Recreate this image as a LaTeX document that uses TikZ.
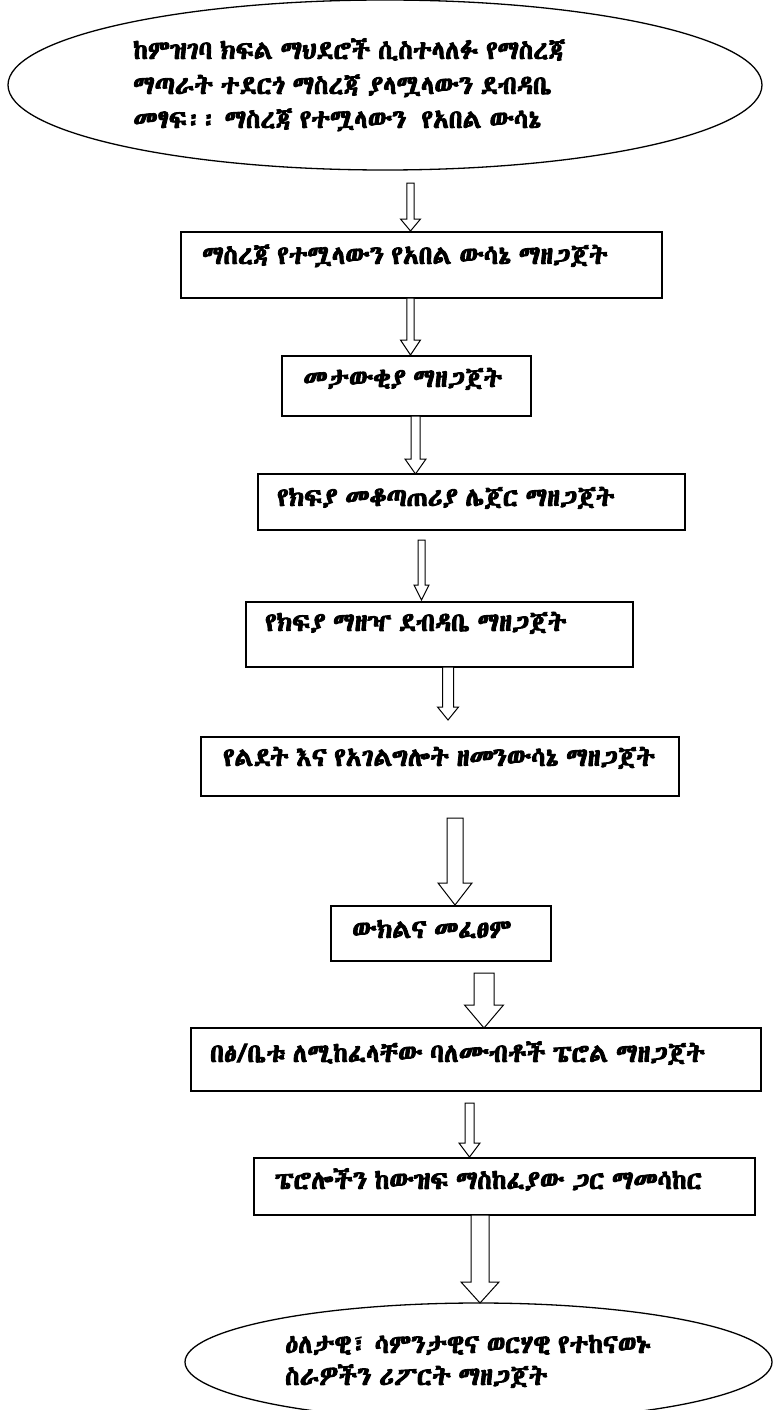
\documentclass[tikz,border=0pt]{standalone}
\usepackage{fontspec}
\usetikzlibrary{shapes.geometric,calc}
\IfFontExistsTF{Abyssinica SIL}{\newfontfamily\ethfont{Abyssinica SIL}[FakeBold=3.4,WordSpace=0.65]}{%
  \IfFontExistsTF{FreeSerif.otf}{\newfontfamily\ethfont{FreeSerif.otf}[FakeBold=3.4,WordSpace=0.65]}{\newfontfamily\ethfont{DejaVu Sans}[FakeBold=1.5]}}
\newcommand\barrow[7]{%
  \coordinate (#1s) at (#2,#3);
  \coordinate (#1e) at (#2,#4);
  \draw[blockarr] ($(#1s)+(-#5,0)$) -- ($(#1s)+(#5,0)$) -- ($(#1e)+(#5,-#7)$)
    -- ($(#1e)+(#6,-#7)$) -- (#1e) -- ($(#1e)+(-#6,-#7)$) -- ($(#1e)+(-#5,-#7)$) -- cycle;}
\begin{document}
\begin{tikzpicture}[x=1pt,y=-1pt,
  txt/.style={font=\ethfont\fontsize{26}{30}\selectfont, inner sep=0pt, anchor=base west},
  box/.style={draw, line width=1.3pt, inner sep=0pt, outer sep=0pt},
  oval/.style={draw, ellipse, line width=1.3pt, inner sep=0pt, outer sep=0pt},
  blockarr/.style={draw, line width=1pt, fill=white, line join=miter}]
\useasboundingbox (0,0) rectangle (775,1410);
\fill[white] (0,0) rectangle (775,1410);
% top ellipse
\node[oval, minimum width=754pt, minimum height=170pt] (e1) at (385,85) {};
\node[txt] (te1a) at (133,59) {ከምዝገባ ክፍል ማህደሮች ሲስተላለፉ የማስረጃ};
\node[txt] (te1b) at (133,94) {ማጣራት ተደርጎ ማስረጃ ያላሟላውን ደብዳቤ};
\node[txt] (te1c) at (133,128) {መፃፍ፡፡ ማስረጃ የተሟላውን\ \ የአበል ውሳኔ};
% boxes
\node[box, minimum width=481pt, minimum height=66pt] (b1) at (421.5,265) {};
\node[txt] (t1) at (202,264) {ማስረጃ የተሟላውን የአበል ውሳኔ ማዘጋጀት};
\node[box, minimum width=249pt, minimum height=60pt] (b2) at (406.5,386) {};
\node[txt] (t2) at (303,387) {መታውቂያ ማዘጋጀት};
\node[box, minimum width=427pt, minimum height=56pt] (b3) at (471.5,502) {};
\node[txt] (t3) at (277,506) {የክፍያ መቆጣጠሪያ ሌጀር ማዘጋጀት};
\node[box, minimum width=387pt, minimum height=65pt] (b4) at (439.5,634.5) {};
\node[txt] (t4) at (265,631) {የክፍያ ማዘዣ ደብዳቤ ማዘጋጀት};
\node[box, minimum width=478pt, minimum height=59pt] (b5) at (440,766.5) {};
\node[txt] (t5) at (223,766) {የልደት እና የአገልግሎት ዘመንውሳኔ ማዘጋጀት};
\node[box, minimum width=220pt, minimum height=55pt] (b6) at (441,933.5) {};
\node[txt] (t6) at (352,938) {ውክልና መፈፀም};
\node[box, minimum width=570pt, minimum height=63pt] (b7) at (476,1059.5) {};
\node[txt] (t7) at (210,1062) {በፅ/ቤቱ ለሚከፈላቸው ባለሙብቶች ፔሮል ማዘጋጀት};
\node[box, minimum width=501pt, minimum height=57pt] (b8) at (504.5,1186.5) {};
\node[txt] (t8) at (275,1189) {ፔሮሎችን ከውዝፍ ማስከፈያው ጋር ማመሳከር};
% bottom ellipse
\node[oval, minimum width=587pt, minimum height=118pt] (e2) at (478.5,1362) {};
\node[txt] (te2a) at (285,1353) {ዕለታዊ፣ ሳምንታዊና ወርሃዊ የተከናወኑ};
\node[txt] (te2b) at (285,1385) {ስራዎችን ሪፖርት ማዘጋጀት};
% arrows
\barrow{a1}{410.5}{183}{231}{3.7}{10}{12}
\barrow{a2}{410.5}{298}{355}{3.7}{10}{15}
\barrow{a3}{415.5}{416}{474}{4.5}{10.5}{15}
\barrow{a4}{421.5}{540}{600}{3.5}{7.5}{15}
\barrow{a5}{448}{667}{720}{5.5}{10.5}{13}
\barrow{a6}{455}{818}{905}{8}{17}{22}
\barrow{a7}{484}{973}{1028}{10}{19.5}{23}
\barrow{a8}{469.5}{1103}{1157}{4.5}{10.5}{14}
\barrow{a9}{480}{1215}{1303}{9}{19}{21}
\end{tikzpicture}
\end{document}
